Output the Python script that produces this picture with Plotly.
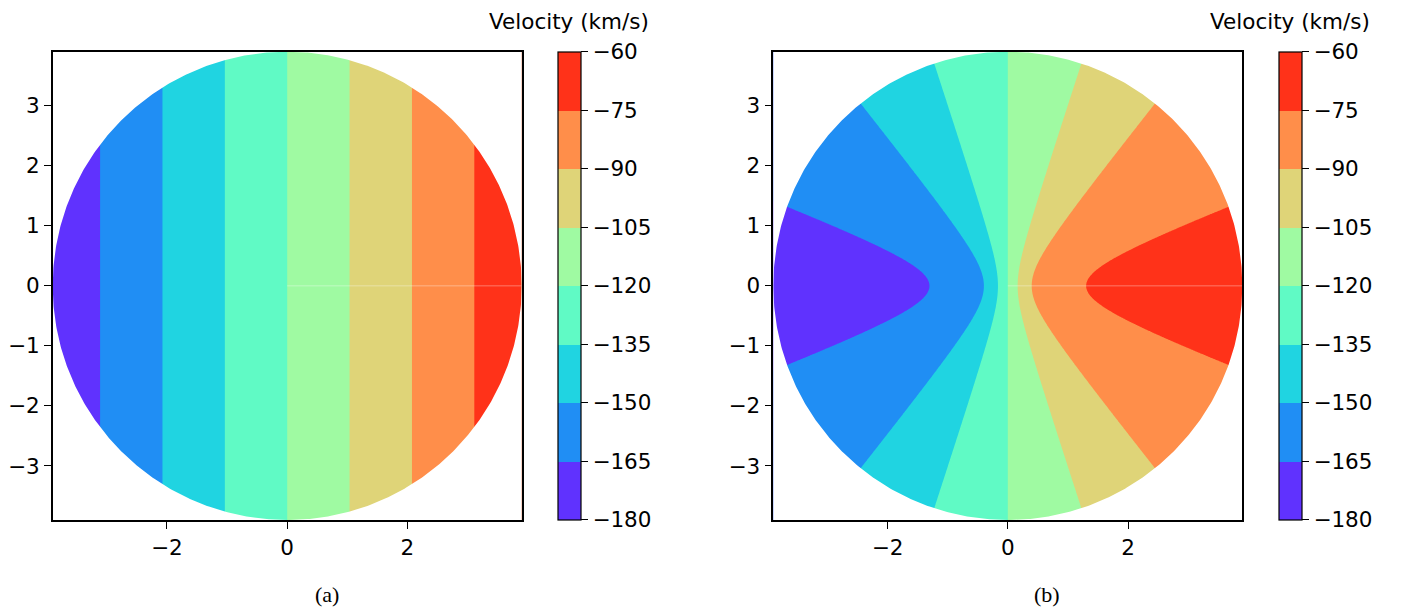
import numpy as np
import plotly.graph_objects as go

# ---- data / model parameters ----
disk_radius = 3.9                     # disk edge
v_systemic = -120.0                   # km/s
solid_gradient = 14.46                # km/s per unit (panel a, solid-body)
flat_velocity = 48.2                  # km/s (panel b, flat rotation curve)
core_radius = 0.5                     # units (panel b)

levels = [-180, -165, -150, -135, -120, -105, -90, -75, -60]
band_colors = ["#6032FE", "#208EF4", "#20D4E1", "#60FAC5",
               "#9FFAA2", "#DFD478", "#FF8E4A", "#FF3219"]
x_ticks = [-2, 0, 2]
y_ticks = [-3, -2, -1, 0, 1, 2, 3]
cbar_ticks = levels
captions = ["(a)", "(b)"]
cbar_title = "Velocity (km/s)"

# ---- fields on a grid ----
g = np.linspace(-disk_radius, disk_radius, 601)
X, Y = np.meshgrid(g, g)
field_a = v_systemic + solid_gradient * X
field_b = v_systemic + flat_velocity * X / np.sqrt(X**2 + Y**2 + core_radius**2)

# discrete colorscale
n = len(band_colors)
cscale = []
for i, c in enumerate(band_colors):
    cscale.append([i / n, c])
    cscale.append([(i + 1) / n, c])

W, H = 1405, 613
OFF = 8.0   # page body margin in the browser
FONT = "DejaVu Sans"
FS = 21.5

# pixel layout (target page coordinates, shifted by the body margin)
ax_left = [52.7 - OFF, 773.3 - OFF]
ax_w = 469.0
ax_top, ax_bot = 51.7 - OFF, 520.0 - OFF
cb_left = [558.3 - OFF, 1278.9 - OFF]
cb_w = 23

fig = go.Figure()

# mask polygon (white outside the disk) : circle CCW then square CW
t = np.linspace(0, 2 * np.pi, 721)
Lm = disk_radius * 1.2
mask_x = list(disk_radius * np.cos(t)) + [Lm, Lm, -Lm, -Lm, Lm, Lm]
mask_y = list(disk_radius * np.sin(t)) + [0, -Lm, -Lm, Lm, Lm, 0]

for k, field in enumerate([field_a, field_b]):
    xa = "x" if k == 0 else "x2"
    ya = "y" if k == 0 else "y2"
    fig.add_trace(go.Contour(
        x=g, y=g, z=field, xaxis=xa, yaxis=ya,
        colorscale=cscale, zmin=levels[0], zmax=levels[-1],
        autocontour=False,
        contours=dict(start=levels[0], end=levels[-1], size=levels[1] - levels[0],
                      coloring="fill", showlines=False),
        line=dict(width=0),
        hoverinfo="skip",
        colorbar=dict(
            x=cb_left[k] / W, xanchor="left", xpad=0,
            y=1 - ax_top / H, yanchor="top", ypad=0,
            len=(ax_bot - ax_top) / H, lenmode="fraction",
            thickness=cb_w, thicknessmode="pixels",
            outlinewidth=1.2, outlinecolor="black",
            tickmode="array", tickvals=cbar_ticks,
            ticks="outside", ticklen=7, tickwidth=1.2, tickcolor="black",
            tickfont=dict(family=FONT, size=FS, color="black"),
        ),
    ))
    # faint seam along y=0 (contouring artefact in the original)
    fig.add_trace(go.Scatter(
        x=[0, disk_radius], y=[0, 0], xaxis=xa, yaxis=ya, mode="lines",
        line=dict(color="rgba(255,255,255,0.35)", width=1),
        hoverinfo="skip", showlegend=False))
    fig.add_trace(go.Scatter(
        x=mask_x, y=mask_y, xaxis=xa, yaxis=ya, mode="lines",
        fill="toself", fillcolor="white", line=dict(width=0, color="white"),
        hoverinfo="skip", showlegend=False))

axis_common = dict(
    range=[-disk_radius, disk_radius], showgrid=False, zeroline=False,
    showline=True, mirror=True, linecolor="black", linewidth=1.5,
    ticks="outside", ticklen=7, tickwidth=1.3, tickcolor="black",
    tickfont=dict(family=FONT, size=FS, color="black"),
    layer="above traces", automargin=False,
)

ydom = [1 - ax_bot / H, 1 - ax_top / H]
fig.update_layout(
    width=W, height=H, template="none",
    paper_bgcolor="white", plot_bgcolor="white",
    margin=dict(l=0, r=0, t=0, b=0),
    showlegend=False,
    font=dict(family=FONT, size=FS, color="black"),
    xaxis=dict(domain=[ax_left[0] / W, (ax_left[0] + ax_w) / W], anchor="y",
               tickvals=x_ticks, **axis_common),
    yaxis=dict(domain=ydom, anchor="x", tickvals=y_ticks, **axis_common),
    xaxis2=dict(domain=[ax_left[1] / W, (ax_left[1] + ax_w) / W], anchor="y2",
                tickvals=x_ticks, **axis_common),
    yaxis2=dict(domain=ydom, anchor="x2", tickvals=y_ticks, **axis_common),
)

for k in range(2):
    fig.add_annotation(x=(569 - OFF + 720.6 * k) / W, y=1.0,
                       xref="paper", yref="paper",
                       text=cbar_title, showarrow=False, xanchor="center", yanchor="top",
                       borderpad=0,
                       font=dict(family=FONT, size=FS, color="black"))
    fig.add_annotation(x=(326.5 - OFF + 720.6 * k) / W, y=1 - (594 - OFF) / H,
                       xref="paper", yref="paper",
                       text=captions[k], showarrow=False, xanchor="center", yanchor="middle",
                       font=dict(family="Liberation Serif", size=22, color="black"))

fig.write_html("out.html")
